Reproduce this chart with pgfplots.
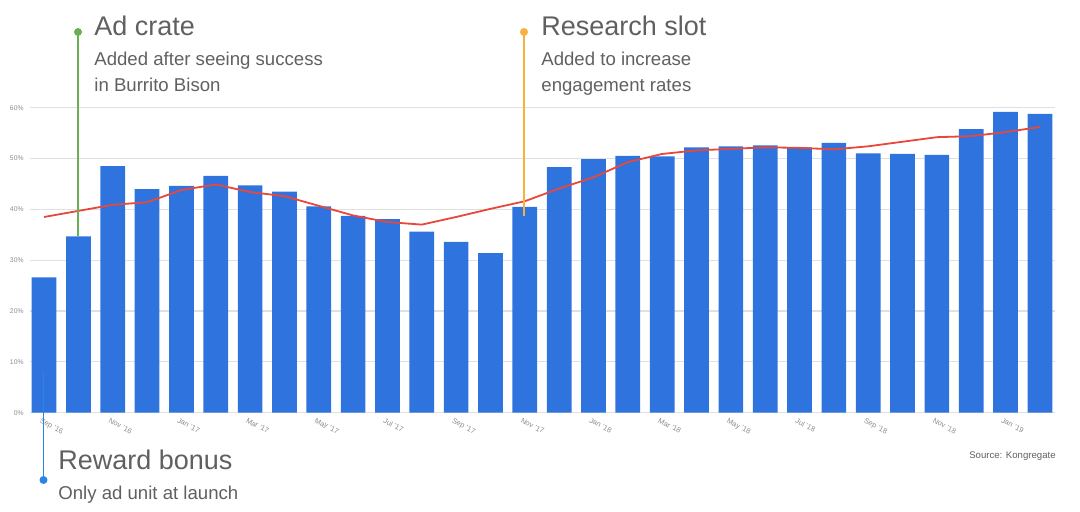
\documentclass[border=0pt]{standalone}
\usepackage{pgfplots}
\pgfplotsset{compat=1.18}
\usepackage{fontspec}
\setmainfont{Liberation Sans}
\definecolor{barblue}{HTML}{2F74DE}
\definecolor{linered}{HTML}{E8473B}
\definecolor{agreen}{HTML}{6AAE55}
\definecolor{aorange}{HTML}{F6B23C}
\definecolor{ablue}{HTML}{2B85E8}
\definecolor{txt}{HTML}{5F6062}
\definecolor{ticktxt}{HTML}{8C8C8C}
\definecolor{gridc}{HTML}{E0E0E0}
\begin{document}
\begin{tikzpicture}[x=0.5pt,y=0.5pt]
\useasboundingbox (0,0) rectangle (1080,512);
\begin{axis}[
  at={(15pt,49.65pt)}, anchor=south west,
  scale only axis, width=512.5pt, height=152.5pt,
  xmin=-0.41, xmax=29.44, ymin=0, ymax=60,
  axis line style={draw=none},
  tick style={draw=none},
  major tick length=0pt,
  ymajorgrids, grid style={gridc, line width=0.6pt},
  ytick={0,10,20,30,40,50,60},
  yticklabels={0\%,10\%,20\%,30\%,40\%,50\%,60\%},
  y tick label style={font=\fontsize{3.4}{4}\selectfont, text=ticktxt, inner sep=0pt, xshift=-3pt, anchor=east},
  xtick={0,2,...,28},
  xticklabels={Sep '16,Nov '16,Jan '17,Mar '17,May '17,Jul '17,Sep '17,Nov '17,Jan '18,Mar '18,May '18,Jul '18,Sep '18,Nov '18,Jan '19},
  x tick label style={rotate=-28, anchor=north west, font=\fontsize{3.7}{4}\selectfont, text=ticktxt, inner sep=0pt, yshift=-2.5pt},
  clip=false,
]
\addplot[ybar, bar width=12.35pt, fill=barblue, draw=none] coordinates {
(0,26.6) (1,34.7) (2,48.5) (3,44.0) (4,44.6) (5,46.6) (6,44.7) (7,43.5) (8,40.6) (9,38.7)
(10,38.1) (11,35.6) (12,33.6) (13,31.4) (14,40.5) (15,48.3) (16,49.9) (17,50.5) (18,50.4) (19,52.2)
(20,52.4) (21,52.6) (22,52.2) (23,53.1) (24,51.0) (25,50.9) (26,50.7) (27,55.8) (28,59.2) (29,58.8)
};
\addplot[linered, line width=0.9pt, mark=none, sharp plot] coordinates {
(0,38.5) (1,39.7) (2,40.9) (3,41.4) (4,43.8) (5,44.9) (6,43.4) (7,42.6) (8,40.7) (9,38.8)
(10,37.5) (11,37.0) (12,38.5) (13,40.1) (14,41.6) (15,44.1) (16,46.3) (17,49.3) (18,50.9) (19,51.6)
(20,51.9) (21,52.2) (22,52.1) (23,51.8) (24,52.4) (25,53.3) (26,54.2) (27,54.4) (28,55.2) (29,56.2)
};
\end{axis}
% annotations
\draw[agreen, line width=0.8pt] (78,480) -- (78,276);
\fill[agreen] (78,480) circle (4);
\node[anchor=base west, inner sep=0pt, text=txt, font=\fontsize{13.5}{16}\selectfont] at (94,476) {Ad crate};
\node[anchor=base west, inner sep=0pt, text=txt, font=\fontsize{9.3}{12}\selectfont] at (94,446.3) {Added after seeing success};
\node[anchor=base west, inner sep=0pt, text=txt, font=\fontsize{9.3}{12}\selectfont] at (94,420.3) {in Burrito Bison};

\draw[aorange, line width=0.8pt] (524,480) -- (524,296.3);
\fill[aorange] (524,480) circle (4);
\node[anchor=base west, inner sep=0pt, text=txt, font=\fontsize{13.5}{16}\selectfont] at (541,476) {Research slot};
\node[anchor=base west, inner sep=0pt, text=txt, font=\fontsize{9.3}{12}\selectfont] at (541,446.3) {Added to increase};
\node[anchor=base west, inner sep=0pt, text=txt, font=\fontsize{9.3}{12}\selectfont] at (541,420.3) {engagement rates};

\draw[ablue, line width=0.8pt] (43.5,140) -- (43.5,32);
\fill[ablue] (43.5,32) circle (4);
\node[anchor=base west, inner sep=0pt, text=txt, font=\fontsize{13.5}{16}\selectfont] at (58,42) {Reward bonus};
\node[anchor=base west, inner sep=0pt, text=txt, font=\fontsize{9.3}{12}\selectfont] at (58,12) {Only ad unit at launch};

\node[anchor=base east, inner sep=0pt, text=txt, font=\fontsize{4.8}{6}\selectfont] at (1056,53) {Source: Kongregate};
\end{tikzpicture}
\end{document}
